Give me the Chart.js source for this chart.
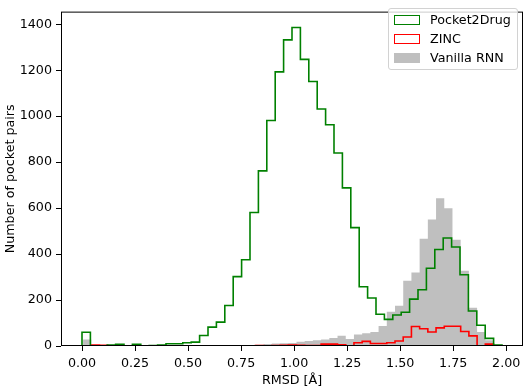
<!DOCTYPE html>
<html>
<head>
<meta charset="utf-8">
<script src="https://cdn.jsdelivr.net/npm/chart.js@4.4.0/dist/chart.umd.min.js"></script>
<style>
  html, body { margin: 0; padding: 0; background: #fff; }
  #wrap { position: relative; width: 526px; height: 388px; }
  .legend { position: absolute; left: 388px; top: 8px; width: 128px; height: 60px; border: 1px solid #d2d2d2; border-radius: 3px; background: rgba(255,255,255,0.8); font-family: 'DejaVu Sans'; font-size: 12.7px; color: #000; }
  .item { position: absolute; left: 41px; height: 19px; line-height: 19px; white-space: nowrap; }
  .sw { position: absolute; left: -36px; top: 5px; width: 26px; height: 10px; box-sizing: border-box; }
</style>
</head>
<body>
<div id="wrap">
  <canvas id="histograma" width="526" height="388"></canvas>
  <div class="legend">
    <div class="item" style="top:1px"><span class="sw" style="border:1.5px solid #008000"></span>Pocket2Drug</div>
    <div class="item" style="top:20px"><span class="sw" style="border:1.5px solid #ff0000"></span>ZINC</div>
    <div class="item" style="top:39px"><span class="sw" style="background:rgba(128,128,128,0.5)"></span>Vanilla RNN</div>
  </div>
</div>
<script>
// Bins del histograma (inicio y ancho, en Å)
const pocket2drugStart = 0;
const pocket2drugWidth = 0.0396;
const otherStart = 0.005; // ZINC y Vanilla RNN comparten bins
const otherWidth = 0.0387;

// Conteos por bin
const pocket2drugCounts = [60, 0, 1, 4, 7, 1, 7, 1, 2, 4,
  10, 10, 14, 17, 46, 82, 104, 176, 302, 375,
  581, 762, 981, 1193, 1332, 1386, 1247, 1151, 1031, 963,
  840, 688, 515, 258, 209, 138, 116, 135, 147, 204,
  245, 338, 420, 470, 431, 310, 152, 90, 33, 4];
const zincCounts = [0, 4, 3, 1, 0, 1, 0, 1, 0, 1,
  0, 1, 0, 1, 1, 0, 1, 1, 0, 1,
  1, 2, 1, 2, 3, 4, 3, 2, 2, 8,
  8, 5, 1, 14, 20, 11, 11, 14, 22, 39,
  85, 75, 61, 79, 86, 86, 63, 44, 1, 8];
const vanillaRnnCounts = [28, 2, 1, 0, 1, 0, 1, 0, 1, 1,
  0, 1, 1, 1, 2, 1, 2, 2, 3, 3,
  4, 5, 9, 11, 12, 13, 18, 22, 25, 28,
  35, 45, 30, 50, 55, 61, 87, 149, 175, 284,
  320, 467, 550, 643, 599, 462, 327, 166, 61, 25];

const xTicks = [0, 0.25, 0.5, 0.75, 1, 1.25, 1.5, 1.75, 2];
const yTicks = [0, 200, 400, 600, 800, 1000, 1200, 1400];
const xRange = [-0.099, 2.079];
const yRange = [0, 1455];

// Convierte conteos en puntos para una linea escalonada
const toSteps = (counts, start, width) => {
  const pts = [{ x: start, y: 0 }];
  counts.forEach((c, i) => pts.push({ x: start + i * width, y: c }));
  pts.push({ x: start + counts.length * width, y: 0 });
  return pts;
};

const fuente = { family: 'DejaVu Sans', size: 12.7 };

// Marco completo alrededor del area del grafico
const marco = {
  id: 'marco',
  afterDatasetsDraw(chart) {
    const { ctx, chartArea: a } = chart;
    ctx.save();
    ctx.strokeStyle = '#000';
    ctx.lineWidth = 1;
    ctx.strokeRect(a.left + 0.5, a.top + 0.5, a.right - a.left - 1, a.bottom - a.top - 1);
    ctx.restore();
  }
};

const ctx = document.getElementById('histograma').getContext('2d');
new Chart(ctx, {
  type: 'line',
  data: {
    datasets: [
      { label: 'Pocket2Drug', data: toSteps(pocket2drugCounts, pocket2drugStart, pocket2drugWidth),
        stepped: true, borderColor: '#008000', borderWidth: 1.6, fill: false, pointRadius: 0 },
      { label: 'ZINC', data: toSteps(zincCounts, otherStart, otherWidth),
        stepped: true, borderColor: '#ff0000', borderWidth: 1.6, fill: false, pointRadius: 0 },
      { label: 'Vanilla RNN', data: toSteps(vanillaRnnCounts, otherStart, otherWidth),
        stepped: true, borderWidth: 0, borderColor: 'rgba(0,0,0,0)', fill: 'origin',
        backgroundColor: 'rgba(128,128,128,0.5)', pointRadius: 0 }
    ]
  },
  options: {
    responsive: false,
    animation: false,
    devicePixelRatio: 1,
    layout: { padding: { left: 0, top: 2, right: 3, bottom: 0 } },
    plugins: { legend: { display: false }, tooltip: { enabled: false } },
    scales: {
      x: {
        type: 'linear',
        min: xRange[0],
        max: xRange[1],
        afterBuildTicks: (scale) => { scale.ticks = xTicks.map(v => ({ value: v })); },
        afterFit: (scale) => { scale.height = 42; },
        ticks: { font: fuente, color: '#000', padding: 5, maxRotation: 0, callback: (v) => v.toFixed(2) },
        grid: { drawOnChartArea: false, drawTicks: true, tickLength: 5, color: '#000' },
        border: { display: false },
        title: { display: true, text: 'RMSD [Å]', font: fuente, color: '#000', padding: { top: 0, bottom: 0 } }
      },
      y: {
        min: yRange[0],
        max: yRange[1],
        afterBuildTicks: (scale) => { scale.ticks = yTicks.map(v => ({ value: v })); },
        afterFit: (scale) => { scale.width = 61; },
        ticks: { font: fuente, color: '#000', padding: 4, callback: (v) => String(v) },
        grid: { drawOnChartArea: false, drawTicks: true, tickLength: 5, color: '#000' },
        border: { display: false },
        title: { display: true, text: 'Number of pocket pairs', font: fuente, color: '#000', padding: { top: 3, bottom: 0 } }
      }
    }
  },
  plugins: [marco]
});
</script>
</body>
</html>
